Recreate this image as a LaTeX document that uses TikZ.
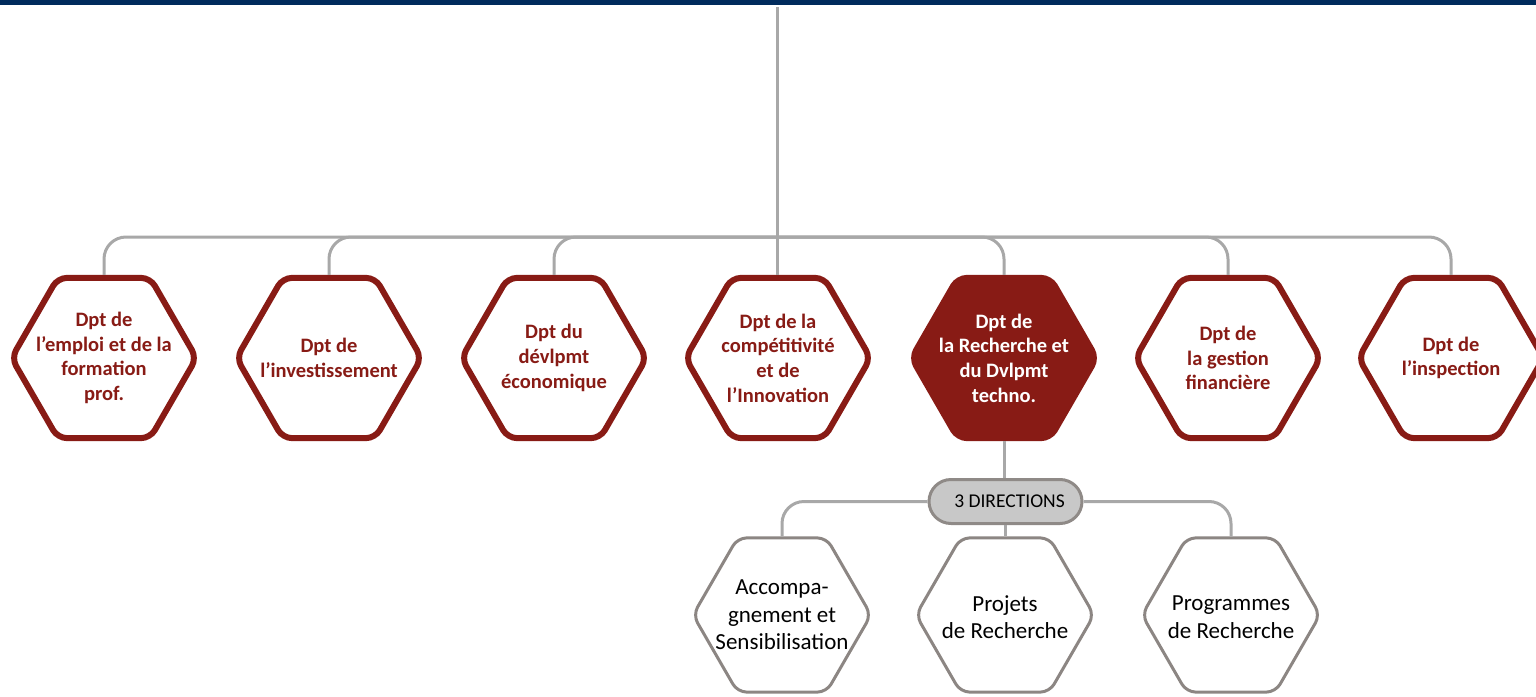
\documentclass[tikz,border=0pt]{standalone}
\usepackage{fontspec}
\setmainfont{Carlito}
\usetikzlibrary{shapes.geometric}
\definecolor{navy}{RGB}{0,43,92}
\definecolor{dred}{RGB}{136,27,21}
\definecolor{conngray}{RGB}{168,168,168}
\definecolor{hexgray}{RGB}{140,134,131}
\definecolor{pillfill}{RGB}{200,200,200}
\definecolor{pillborder}{RGB}{143,138,135}
\tikzset{
  hexbase/.style={regular polygon, regular polygon sides=6, inner sep=0pt, rounded corners=9pt},
  tophex/.style={hexbase, minimum size=185pt, draw=dred, line width=6pt, fill=white},
  tophexf/.style={hexbase, minimum size=185pt, draw=dred, line width=6pt, fill=dred},
  subhex/.style={hexbase, minimum size=178pt, draw=hexgray, line width=3pt, fill=white},
  toptext/.style={align=center, text=dred, font=\fontsize{20.5}{24.7}\selectfont\bfseries},
  toptextw/.style={toptext, text=white},
  subtext/.style={align=center, text=black, font=\fontsize{23}{27.5}\selectfont},
  pill/.style={draw=pillborder, fill=pillfill, line width=3pt, rounded corners=22pt,
    minimum width=153pt, minimum height=44pt, inner sep=0pt,
    font=\fontsize{19.5}{22}\selectfont},
  conn/.style={draw=conngray, line width=3pt, rounded corners=22pt},
}
\begin{document}
\begin{tikzpicture}[x=1pt, y=-1pt]
\useasboundingbox (0,0) rectangle (1536,696);
\fill[navy] (0,0) rectangle (1536,4.5);

\coordinate (top) at (777.5,7);
\coordinate (bus) at (777.5,237);

% top level hexagons
\node[tophex] (h1) at (104,358) {};
\node[tophex] (h2) at (329,358) {};
\node[tophex] (h3) at (554,358) {};
\node[tophex] (h4) at (778,358) {};
\node[tophexf] (h5) at (1004,358) {};
\node[tophex] (h6) at (1228,358) {};
\node[tophex] (h7) at (1451,358) {};

\node[toptext] (t1) at (h1) {Dpt de\\l’emploi et de la\\formation\\prof.};
\node[toptext] (t2) at (h2) {Dpt de\\l’investissement};
\node[toptext] (t3) at (h3) {Dpt du\\dévlpmt\\économique};
\node[toptext] (t4) at (h4) {Dpt de la\\compétitivité\\et de\\l’Innovation};
\node[toptextw] (t5) at (h5) {Dpt de\\la Recherche et\\du Dvlpmt\\techno.};
\node[toptext] (t6) at (h6) {Dpt de\\la gestion\\financière};
\node[toptext] (t7) at (h7) {Dpt de\\l’inspection};

% connectors top level
\draw[conn] (top) -- (top |- h4.north);
\foreach \h in {h1,h2,h3,h5,h6,h7}{
  \draw[conn] (bus) -| (\h.north);
}

% directions
\node[pill] (dir) at (1005.5,501.5) {\hspace*{8pt}3 DIRECTIONS};

\node[subhex] (s1) at (782,615) {};
\node[subhex] (s2) at (1005,615) {};
\node[subhex] (s3) at (1231,615) {};

\node[subtext] (u1) at (s1) {Accompa-\\gnement et\\Sensibilisation};
\node[subtext] (u2) at ([yshift=-2pt]s2) {Projets\\de Recherche};
\node[subtext] (u3) at ([yshift=-2pt]s3) {Programmes\\de Recherche};

\draw[conn] (h5.south) -- (h5.south |- dir.north);
\draw[conn] (dir.west) -| (s1.north);
\draw[conn] (s2.north |- dir.south) -- (s2.north);
\draw[conn] (dir.east) -| (s3.north);
\end{tikzpicture}
\end{document}
